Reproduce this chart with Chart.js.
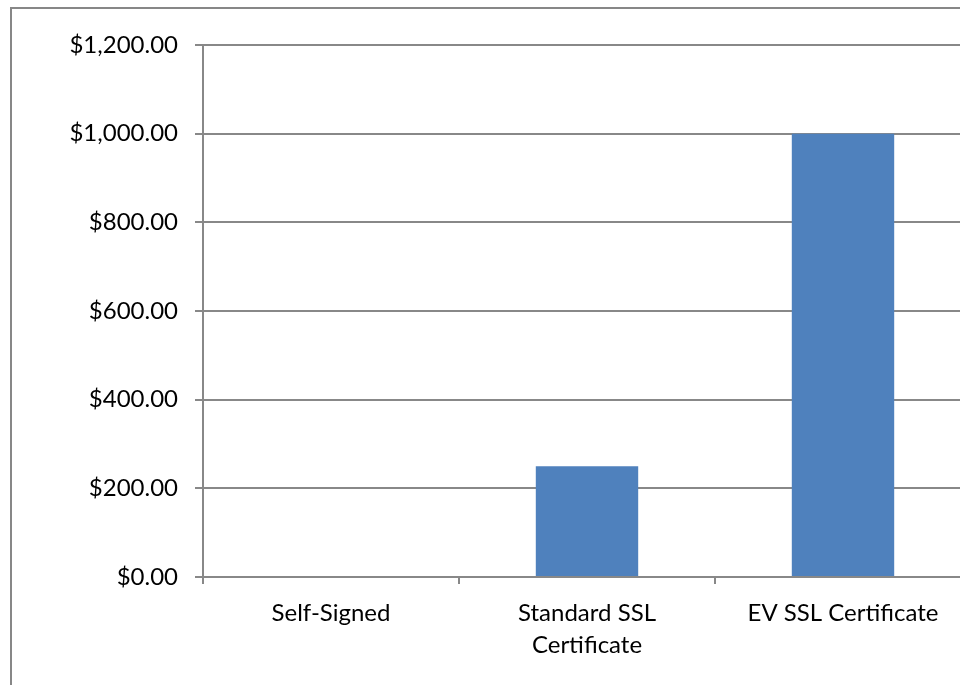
<!DOCTYPE html>
<html>
<head>
<meta charset="utf-8">
<script src="https://cdn.jsdelivr.net/npm/chart.js@4.4.1/dist/chart.umd.min.js"></script>
<style>
    html, body { margin: 0; padding: 0; background: #fff; overflow: hidden; }
    #frame { position: absolute; left: 10px; top: 7px; width: 1000px; height: 720px; border: 2px solid #878787; }
    #chart { position: absolute; left: 0; top: 0; }
</style>
</head>
<body>
<div id="frame"></div>
<canvas id="chart" width="1000" height="720"></canvas>
<script>
const categories = ['Self-Signed', ['Standard SSL', 'Certificate'], 'EV SSL Certificate'];
const prices = [0, 250, 1000];
const yMin = 0;
const yMax = 1200;
const yStep = 200;

const lineColor = '#888888';
const barColor = '#4f81bd';
const fontFamily = 'Lato, "Open Sans", sans-serif';

const ctx = document.getElementById('chart').getContext('2d');

new Chart(ctx, {
    type: 'bar',
    data: {
        labels: categories,
        datasets: [{
            data: prices,
            backgroundColor: barColor,
            borderWidth: 0,
            categoryPercentage: 1,
            barPercentage: 0.4
        }]
    },
    options: {
        responsive: false,
        animation: false,
        layout: { padding: { top: 45, right: 29, left: 0, bottom: 0 } },
        plugins: {
            legend: { display: false },
            tooltip: { enabled: false }
        },
        scales: {
            x: {
                grid: {
                    offset: true,
                    drawOnChartArea: false,
                    drawTicks: true,
                    tickLength: 7,
                    color: lineColor,
                    lineWidth: 2
                },
                border: { display: true, color: lineColor, width: 2 },
                ticks: {
                    color: '#000',
                    padding: 13,
                    maxRotation: 0,
                    autoSkip: false,
                    font: { family: fontFamily, size: 24, lineHeight: 1.33 }
                },
                afterFit: scale => { scale.height = 720 - 577; }
            },
            y: {
                min: yMin,
                max: yMax,
                ticks: {
                    stepSize: yStep,
                    color: '#000',
                    padding: 17,
                    font: { family: fontFamily, size: 24 },
                    callback: v => '$' + v.toLocaleString('en-US', { minimumFractionDigits: 2, maximumFractionDigits: 2 })
                },
                grid: {
                    color: lineColor,
                    lineWidth: 2,
                    tickLength: 8
                },
                border: { display: true, color: lineColor, width: 2 },
                afterFit: scale => { scale.width = 203; }
            }
        }
    }
});
</script>
</body>
</html>
